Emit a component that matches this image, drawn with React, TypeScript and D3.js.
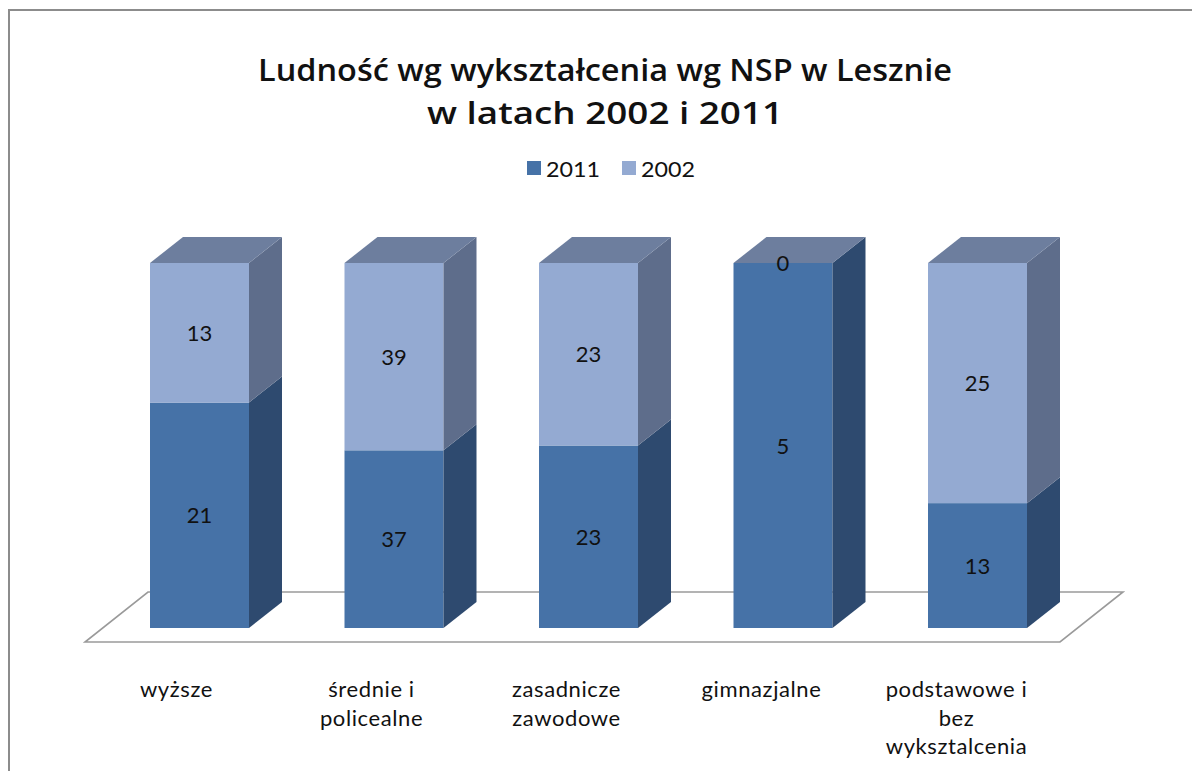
import React from "react";
import * as d3 from "d3";

const categories: string[][] = [
  ["wyższe"],
  ["średnie i", "policealne"],
  ["zasadnicze", "zawodowe"],
  ["gimnazjalne"],
  ["podstawowe i", "bez", "wyksztalcenia"],
];
const catKeys = ["wyzsze", "srednie", "zasadnicze", "gimnazjalne", "podstawowe"];
const values2011 = [21, 37, 23, 5, 13];
const values2002 = [13, 39, 23, 0, 25];
const seriesNames = ["2011", "2002"];
const titleLines = ["Ludność wg wykształcenia  wg NSP w Lesznie", "w latach 2002 i 2011"];

const colors = {
  front: ["#4672A7", "#94AAD2"],
  side: ["#2E4A6F", "#5E6D8B"],
  top: ["#5F7498", "#6D7E9E"],
};

export default function App() {
  const W = 1192, H = 771;
  const dx = 33, dy = -26;
  const x = d3
    .scaleBand<string>()
    .domain(catKeys)
    .range([102.25, 1074.75])
    .paddingInner(0.491)
    .paddingOuter(0.2455);
  const y = d3.scaleLinear().domain([0, 1]).range([628, 263]);
  const bw = x.bandwidth();

  const rows = catKeys.map((k, i) => ({ key: k, s2011: values2011[i], s2002: values2002[i] }));
  const stack = d3.stack<any>().keys(["s2011", "s2002"]).offset(d3.stackOffsetExpand);
  const series = stack(rows);

  // floor
  const floorFront = 642, floorBack = 592;
  const floorX0 = 85, floorX1 = 1060, fdx = 63;
  const floorPts = [
    [floorX0, floorFront],
    [floorX1, floorFront],
    [floorX1 + fdx, floorBack],
    [floorX0 + fdx, floorBack],
  ];
  const slot = d3.scaleBand<string>().domain(catKeys).range([floorX0, floorX1]);

  const font = "Lato, 'Open Sans', 'DejaVu Sans', sans-serif";
  const titleFont = "'Open Sans', Lato, sans-serif";

  return (
    <svg width={W} height={H} style={{ position: "absolute", left: 0, top: 0, background: "#fff" }}>
      <rect x={0} y={0} width={W} height={H} fill="#fff" />
      <rect x={9} y={10} width={1400} height={1000} fill="#fff" stroke="#8c8c8c" strokeWidth={2} />
      {/* title */}
      <text x={605} y={81} textAnchor="middle" fontFamily={titleFont} fontWeight={600} fontSize={30} fill="#111"
        textLength={694} lengthAdjust="spacingAndGlyphs">{titleLines[0]}</text>
      <text x={605} y={124} textAnchor="middle" fontFamily={titleFont} fontWeight={600} fontSize={30} fill="#111"
        textLength={356} lengthAdjust="spacingAndGlyphs">{titleLines[1]}</text>
      {/* legend */}
      {seriesNames.map((s, i) => {
        const lx = 527 + i * 95;
        return (
          <g key={s}>
            <rect x={lx} y={161} width={14} height={14} fill={colors.front[i]} />
            <text x={lx + 19} y={177} fontFamily={font} fontSize={21} fill="#111" textLength={54} lengthAdjust="spacingAndGlyphs">{s}</text>
          </g>
        );
      })}
      {/* floor */}
      <polygon points={floorPts.map((p) => p.join(",")).join(" ")} fill="#fff" stroke="#9a9a9a" strokeWidth={1.6} />
      {/* bars */}
      {catKeys.map((k, ci) => {
        const x0 = x(k)!;
        const x1 = x0 + bw;
        return (
          <g key={k}>
            {series.map((ser, si) => {
              const d = ser[ci];
              const yb = y(d[0]);
              const yt = y(d[1]);
              return (
                <g key={si}>
                  <rect x={x0} y={yt} width={bw} height={Math.max(0, yb - yt)} fill={colors.front[si]} />
                  <polygon
                    points={`${x1},${yt} ${x1 + dx},${yt + dy} ${x1 + dx},${yb + dy} ${x1},${yb}`}
                    fill={colors.side[si]}
                  />
                </g>
              );
            })}
            {(() => {
              const top = series[series.length - 1][ci];
              const yt = y(top[1]);
              return (
                <polygon
                  points={`${x0},${yt} ${x0 + dx},${yt + dy} ${x1 + dx},${yt + dy} ${x1},${yt}`}
                  fill={colors.top[1]}
                />
              );
            })()}
            {series.map((ser, si) => {
              const d = ser[ci];
              const val = si === 0 ? values2011[ci] : values2002[ci];
              const cy = (y(d[0]) + y(d[1])) / 2;
              return (
                <text key={"l" + si} x={x0 + bw / 2} y={cy + 8} textAnchor="middle" fontFamily={font} fontSize={22} fill="#111">
                  {val}
                </text>
              );
            })}
          </g>
        );
      })}
      {/* category labels */}
      {catKeys.map((k, ci) => {
        const cx = slot(k)! + slot.bandwidth() / 2 - 6;
        return (
          <text key={"c" + k} textAnchor="middle" fontFamily={font} fontSize={22} letterSpacing={0.6} fill="#111">
            {categories[ci].map((line, li) => (
              <tspan key={li} x={cx} y={697 + li * 28.5}>{line}</tspan>
            ))}
          </text>
        );
      })}
    </svg>
  );
}
